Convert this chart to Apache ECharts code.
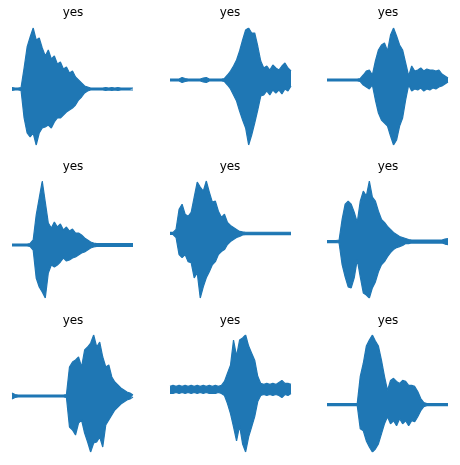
<!DOCTYPE html>
<html>
<head>
<meta charset="utf-8">
<script src="https://cdn.jsdelivr.net/npm/echarts@6/dist/echarts.min.js"></script>
<style>
	html, body { margin: 0; padding: 0; background: #fff; }
	#main { width: 460px; height: 465px; }
</style>
</head>
<body>
<div id="main"></div>
<script>
	// 每个小图的标题
	var titles = ['yes', 'yes', 'yes', 'yes', 'yes', 'yes', 'yes', 'yes', 'yes'];

	// 波形上下包络, 每个图 41 个采样
	var top1 = [1.5,1,1,1.5,21,42,52,61,49,51,41,33,39,30,33,25,27,20,22,16,18,12,9,6,3,2,1,1,1,1,1,1.5,1,1.5,1,1.5,1,1,1,1,1];
	var bot1 = [-1.5,-1,-1,-1.5,-29,-44,-48,-44,-56,-44,-39,-38,-36,-39,-33,-29,-29,-26,-23,-21,-19,-16,-11,-8,-4,-2,-1,-1,-1,-1,-1,-1.5,-1,-1.5,-1,-1.5,-1,-1,-1,-1,-1];

	var top2 = [1,1,1,1,2.5,1.5,1,1,1,1,1,2,2.5,1,1,1,1,1,1.5,5,9,14,20,29,40,50,52,47,47,34,19,12,14,10,15,12,10,14,17,12,9];
	var bot2 = [-1,-1,-1,-1,-2.5,-1.5,-1,-1,-1,-1,-1,-2,-2.5,-1,-1,-1,-1,-1,-1.5,-5,-9,-15,-21,-31,-40,-48,-65,-55,-43,-30,-16,-15,-11,-15,-10,-13,-10,-14,-9,-11,-6];

	var top3 = [1,1,1,1,1,1,1,1,1,1,1,1.5,5,9,10,5,19,30,35,37,29,45,52,44,35,30,17,4,14,9,10,12,9,11,10,10,9,10,6,4,2];
	var bot3 = [-1,-1,-1,-1,-1,-1,-1,-1,-1,-1,-1,-1.5,-5,-7,-9,-5,-20,-33,-40,-43,-46,-56,-65,-60,-46,-38,-20,-5,-11,-9,-10,-8,-11,-9,-10,-8,-9,-7,-6,-4,-2];

	var top4 = [1,1,1,1,1,1,1.5,5,30,47,64,43,22,17,23,18,21,15,18,14,16,12,12,10,7,5,3,2,1.3,1.3,1.3,1.3,1.3,1.3,1.3,1.3,1.3,1.3,1.3,1.3,1.3];
	var bot4 = [-1,-1,-1,-1,-1,-1,-1.5,-5,-33,-42,-47,-53,-28,-20,-22,-20,-17,-13,-16,-15,-13,-12,-10,-8,-7,-5,-3,-2,-1.3,-1.3,-1.3,-1.3,-1.3,-1.3,-1.3,-1.3,-1.3,-1.3,-1.3,-1.3,-1.3];

	var top5 = [1,1,4,24,29,19,17,21,36,51,46,42,52,41,31,32,22,16,19,11,8,6,4,2,1.5,1.2,1.2,1.2,1.2,1.2,1.2,1.2,1.2,1.2,1.2,1.2,1.2,1.2,1.2,1.2,1.2];
	var bot5 = [-1,-1,-4,-21,-24,-21,-28,-29,-44,-39,-64,-53,-44,-38,-31,-28,-21,-18,-16,-11,-8,-6,-4,-3,-1.5,-1.2,-1.2,-1.2,-1.2,-1.2,-1.2,-1.2,-1.2,-1.2,-1.2,-1.2,-1.2,-1.2,-1.2,-1.2,-1.2];

	var top6 = [1,1,1,1,1.5,22,37,40,37,29,19,40,50,45,60,44,40,30,22,19,15,12,9,7,5,4,3,2,1.5,1.5,1.5,1.5,1.5,1.5,1.5,1.5,1.5,1.5,1.5,2.5,3];
	var bot6 = [-1,-1,-1,-1,-1.5,-23,-35,-45,-46,-36,-18,-35,-51,-53,-56,-46,-40,-30,-23,-20,-15,-11,-8,-6,-5,-4,-2,-2,-1.5,-1.5,-1.5,-1.5,-1.5,-1.5,-1.5,-1.5,-1.5,-1.5,-1.5,-2.5,-3];

	var top7 = [3,1.5,1,1,1,1,1,1,1,1,1,1,1,1,1,1,1,1,1.5,29,34,36,39,29,46,49,53,61,49,54,39,29,31,19,14,11,8,6,4,3,1];
	var bot7 = [-3,-1.5,-1,-1,-1,-1,-1,-1,-1,-1,-1,-1,-1,-1,-1,-1,-1,-1,-1.5,-31,-34,-39,-27,-24,-37,-46,-56,-47,-46,-41,-51,-29,-24,-19,-14,-11,-8,-6,-4,-3,-1];

	var top8 = [3,4,3,4,3,4,3,4,3,4,3,4,3,4,3,4,3,4,8,16,24,49,33,49,51,54,43,36,29,13,6,5,6,5,6,5,7,9,6,6,5];
	var bot8 = [-4,-4,-3,-4,-3,-4,-3,-4,-3,-4,-3,-4,-3,-4,-4,-4,-3,-4,-6,-14,-24,-37,-51,-36,-54,-62,-47,-37,-27,-12,-6,-5,-6,-5,-6,-5,-6,-8,-5,-6,-4];

	var top9 = [1,1,1,1,1,1,1,1,1,1,1,28,41,58,64,69,63,58,44,28,14,24,26,23,21,24,23,19,19,18,13,6,2,1,1,1,1,1,1,1,1];
	var bot9 = [-1,-1,-1,-1,-1,-1,-1,-1,-1,-1,-1,-24,-26,-36,-42,-47,-44,-39,-29,-19,-12,-19,-16,-21,-14,-19,-16,-21,-16,-17,-12,-6,-2,-1,-1,-1,-1,-1,-1,-1,-1];

	var tops = [top1, top2, top3, top4, top5, top6, top7, top8, top9];
	var bots = [bot1, bot2, bot3, bot4, bot5, bot6, bot7, bot8, bot9];

	// 版面
	var colLeft = [12, 170, 327];
	var colMid = [73, 230, 388];
	var rowTop = [28, 181, 335];
	var titleTop = [7, 161, 315];
	var boxW = 121, boxH = 117;
	var blue = '#1f77b4';

	var grid = [], xAxis = [], yAxis = [], series = [], title = [];
	for (var i = 0; i < 9; i++) {
		var r = Math.floor(i / 3), c = i % 3;
		var idx = [], span = [];
		for (var k = 0; k < tops[i].length; k++) {
			idx.push(k);
			span.push(tops[i][k] - bots[i][k]);
		}
		grid.push({left: colLeft[c], top: rowTop[r], width: boxW, height: boxH});
		xAxis.push({type: 'category', gridIndex: i, show: false, boundaryGap: false, data: idx});
		yAxis.push({type: 'value', gridIndex: i, show: false, min: 'dataMin', max: 'dataMax'});
		// 下包络 + 堆叠的幅度 = 上包络, 中间整块填充
		series.push({
			type: 'line', xAxisIndex: i, yAxisIndex: i, data: bots[i],
			stack: 'w' + i, stackStrategy: 'all',
			symbol: 'none', silent: true,
			lineStyle: {color: blue, width: 1.2}
		});
		series.push({
			type: 'line', xAxisIndex: i, yAxisIndex: i, data: span,
			stack: 'w' + i, stackStrategy: 'all',
			symbol: 'none', silent: true,
			lineStyle: {color: blue, width: 1.2},
			areaStyle: {color: blue, opacity: 1}
		});
		title.push({
			text: titles[i], left: colMid[c], top: titleTop[r], textAlign: 'center', padding: 0,
			textStyle: {fontSize: 12, fontWeight: 'normal', color: '#000', fontFamily: 'DejaVu Sans'}
		});
	}

	var myChart = echarts.init(document.getElementById('main'));
	myChart.setOption({
		animation: false,
		title: title,
		grid: grid,
		xAxis: xAxis,
		yAxis: yAxis,
		series: series
	});
</script>
</body>
</html>
